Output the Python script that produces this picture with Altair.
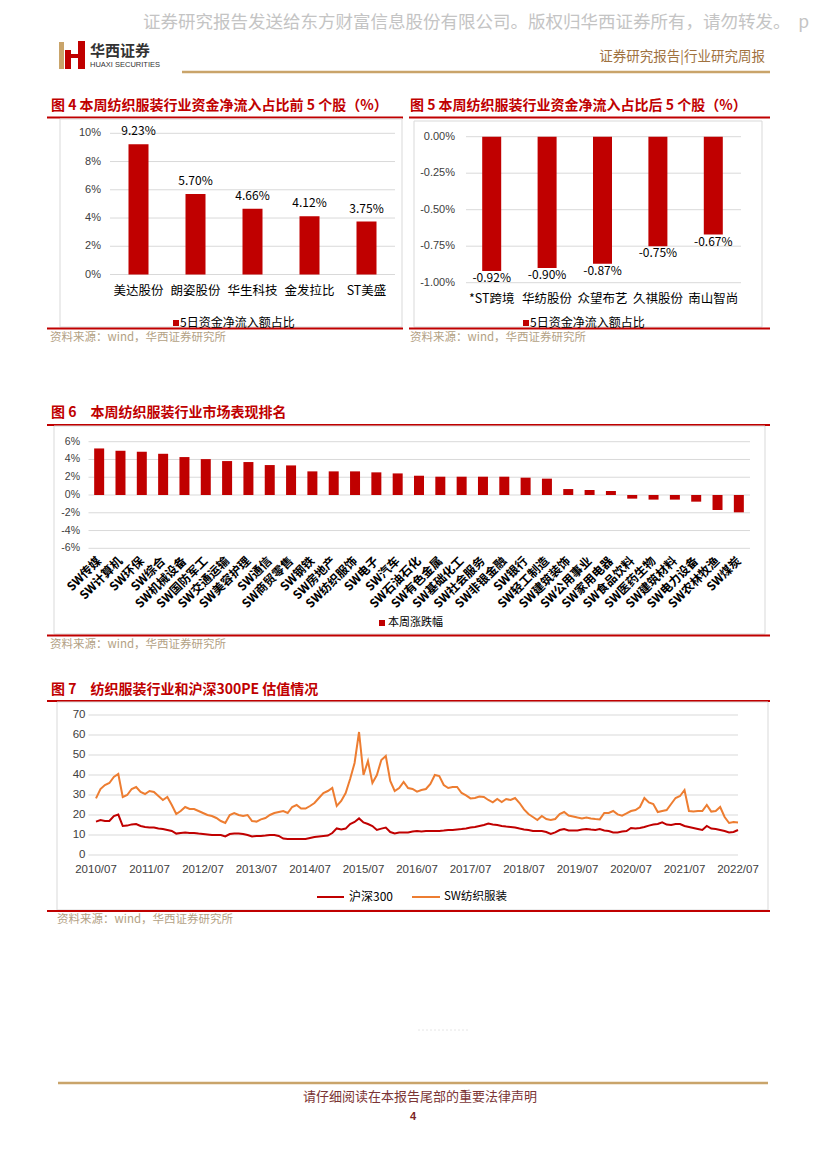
import altair as alt
import pandas as pd

# ---------------- data ----------------
cats4 = ["美达股份", "朗姿股份", "华生科技", "金发拉比", "ST美盛"]
vals4 = [9.23, 5.70, 4.66, 4.12, 3.75]
ticks4 = [0, 2, 4, 6, 8, 10]

cats5 = ["*ST跨境", "华纺股份", "众望布艺", "久祺股份", "南山智尚"]
vals5 = [-0.92, -0.90, -0.87, -0.75, -0.67]
ticks5 = [0.0, -0.25, -0.50, -0.75, -1.00]

cats6 = ["SW传媒", "SW计算机", "SW环保", "SW综合", "SW机械设备", "SW国防军工",
         "SW交通运输", "SW美容护理", "SW通信", "SW商贸零售", "SW钢铁", "SW房地产",
         "SW纺织服饰", "SW电子", "SW汽车", "SW石油石化", "SW有色金属", "SW基础化工",
         "SW社会服务", "SW非银金融", "SW银行", "SW轻工制造", "SW建筑装饰", "SW公用事业",
         "SW家用电器", "SW食品饮料", "SW医药生物", "SW建筑材料", "SW电力设备",
         "SW农林牧渔", "SW煤炭"]
vals6 = [5.24, 4.98, 4.87, 4.64, 4.27, 4.04, 3.82, 3.71, 3.37, 3.33, 2.66, 2.66,
         2.66, 2.55, 2.43, 2.17, 2.06, 2.06, 2.06, 2.06, 1.95, 1.84, 0.67, 0.56,
         0.45, -0.41, -0.52, -0.52, -0.75, -1.69, -1.95]
ticks6 = [6, 4, 2, 0, -2, -4, -6]

xlabels7 = ["2010/07", "2011/07", "2012/07", "2013/07", "2014/07", "2015/07", "2016/07",
            "2017/07", "2018/07", "2019/07", "2020/07", "2021/07", "2022/07"]
ticks7 = [0, 10, 20, 30, 40, 50, 60, 70]
# monthly readings, 2010/07 .. 2022/07
hs300 = [16.7, 17.5, 17, 17, 19.5, 20.2, 14.5, 14.7, 15.3, 15.5, 14.5, 14,
         13.8, 13.7, 13.2, 13, 12.5, 12, 10.7, 11, 11.3, 11, 11, 10.7,
         10.5, 10.3, 10, 10, 10, 9.3, 10.5, 10.8, 10.7, 10.5, 10, 9.3,
         9.5, 9.5, 9.7, 10, 10, 9.5, 8.2, 8, 8, 8, 8, 8,
         8.5, 9, 9.3, 9.5, 9.7, 11, 13.3, 12.8, 13.2, 15.5, 16.5, 18.3,
         16.3, 15.5, 14.5, 12.5, 13.2, 13.7, 11.5, 10.8, 11.2, 11.3, 11.3, 11.7,
         12, 11.7, 12, 12, 12, 12, 12.2, 12.5, 12.5, 12.8, 13, 13.3,
         13.7, 14, 14.5, 15, 15.7, 15.3, 15, 14.5, 14.2, 14, 13.7, 13.2,
         12.8, 12.5, 12, 12, 12, 11.5, 10.5, 11.3, 12.5, 13, 12.3, 12.3,
         12.3, 12.7, 13, 12.7, 12.5, 13, 12.3, 12, 11.3, 11.3, 11.7, 12,
         13.5, 13.3, 13.5, 14, 14.7, 15.2, 15.5, 16.3, 15.2, 15, 15.5, 15.5,
         14.5, 14, 13.5, 13, 12.5, 14.5, 13.2, 13, 12.5, 12, 11.3, 11.5, 12.5]
swfz = [28.3, 33, 35, 36, 39, 40.5, 29, 30, 33, 34, 31.5, 30.5,
        32, 31.5, 29.5, 27.5, 29, 25, 20.5, 22, 24, 23, 23, 22,
        21, 20, 19.5, 18.5, 17, 16, 20, 21, 20, 19.5, 20, 17,
        16.7, 17.8, 18.5, 20, 21, 21.5, 22, 21, 24, 25, 23.2, 23.2,
        24.5, 26, 28.5, 31, 32, 33.5, 24.5, 27, 31, 38, 46, 61.5,
        40, 47, 36, 40, 47.5, 49.5, 37, 32, 33.5, 36.5, 33.5, 33,
        31.7, 32.5, 33, 35.5, 40, 39.5, 35, 33.5, 34, 34, 31, 29.8,
        28.3, 28.5, 29.2, 29, 27.5, 26.3, 28, 26.5, 28, 27.5, 28.5, 26,
        22.8, 20.5, 19, 17.5, 19.5, 18, 17.5, 18, 20.5, 21.5, 19.7, 19.2,
        18.7, 18.3, 18.7, 18.3, 18, 17.8, 21, 21, 22, 20.3, 19.7, 20.8,
        22, 22.5, 24, 28.5, 26.3, 25.5, 21.5, 22, 22.5, 25.5, 28.5, 29.5,
        32.5, 22, 21.7, 22, 22, 25, 21.7, 22, 24, 19, 16, 16.5, 16.3]

# ---------------- style ----------------
M = 8
W, H = 811, 1154
CJK = "Noto Sans CJK SC"
SANS = "Liberation Sans"
RED = "#C00000"
ORANGE = "#ED7D31"
GRID = "#D9D9D9"
BOX = "#D9D9D9"
SRC = "#B3A184"
GOLD = "#C9A46A"
SP = "\u3000"


def px(v):
    return v - M


one = pd.DataFrame({"k": [0]})
layers = []


def text(s, x, y, size=12, color="#000000", align="left", font=CJK, weight="normal"):
    layers.append(
        alt.Chart(one).mark_text(text=s, align=align, baseline="middle", fontSize=size,
                                 font=font, color=color, fontWeight=weight)
        .encode(x=alt.value(px(x)), y=alt.value(px(y))))


def hrule(x1, x2, y, color, w=1.0, dash=None):
    kw = dict(color=color, strokeWidth=w)
    if dash:
        kw["strokeDash"] = dash
    layers.append(alt.Chart(one).mark_rule(**kw)
                  .encode(x=alt.value(px(x1)), x2=alt.value(px(x2)), y=alt.value(px(y))))


def rect(x1, x2, y1, y2, fill=None, stroke=None):
    if fill:
        m = alt.Chart(one).mark_rect(color=fill)
    else:
        m = alt.Chart(one).mark_rect(fillOpacity=0, stroke=stroke, strokeWidth=1)
    layers.append(m.encode(x=alt.value(px(x1)), x2=alt.value(px(x2)),
                           y=alt.value(px(y1)), y2=alt.value(px(y2))))


# ---------------- header ----------------
text("证券研究报告发送给东方财富信息股份有限公司。版权归华西证券所有，请勿转发。\u00a0\u00a0p",
     143, 23, size=17.5, color="#C4C4C4")
rect(59, 64, 42, 69, fill=GOLD)
rect(65, 71, 50, 69, fill=RED)
rect(78, 85, 41, 69, fill=RED)
rect(65, 85, 54, 58, fill=RED)
text("华西证券", 90, 51, size=15, color="#333333", weight="bold")
text("HUAXI SECURITIES", 90, 65, size=7.5, color="#333333", font=SANS)
text("证券研究报告|行业研究周报", 765, 57, size=13.5, color="#A0723F", align="right")
hrule(182, 770, 72, GOLD, 2.5)

# ---------------- figure 4 ----------------
text("图 4 本周纺织服装行业资金净流入占比前 5 个股（%）", 51, 106, size=14, color=RED, weight="bold")
hrule(47, 403, 117.5, RED, 2)
rect(60, 402, 119, 327, stroke=BOX)
hrule(47, 403, 328.5, RED, 2)
text("资料来源：wind，华西证券研究所", 50, 338, size=11.5, color=SRC)

df4 = pd.DataFrame({"cat": cats4, "val": vals4, "lbl": [f"{v:.2f}%" for v in vals4]})
t4 = pd.DataFrame({"v": ticks4, "lbl": [f"{v}%" for v in ticks4]})
ys4 = alt.Scale(domain=[0, 10], range=[px(274.5), px(133.3)])
xs4 = alt.Scale(domain=cats4, range=[px(110), px(395)], paddingInner=0, paddingOuter=0)
layers.append(alt.Chart(t4).mark_rule(color=GRID).encode(
    y=alt.Y("v:Q", scale=ys4, axis=None), x=alt.value(px(110)), x2=alt.value(px(395))))
layers.append(alt.Chart(t4).mark_text(align="right", baseline="middle", font=SANS, fontSize=11,
                                      color="#404040").encode(
    y=alt.Y("v:Q", scale=ys4, axis=None), x=alt.value(px(101)), text="lbl:N"))
layers.append(alt.Chart(df4).mark_bar(color=RED, width=20).encode(
    x=alt.X("cat:N", scale=xs4, axis=None, sort=cats4), y=alt.Y("val:Q", scale=ys4, axis=None)))
layers.append(alt.Chart(df4).mark_text(baseline="bottom", dy=-6, fontSize=12, font=CJK,
                                       color="#000000").encode(
    x=alt.X("cat:N", scale=xs4, axis=None, sort=cats4), y=alt.Y("val:Q", scale=ys4, axis=None),
    text="lbl:N"))
layers.append(alt.Chart(df4).mark_text(baseline="middle", fontSize=12.5, font=CJK,
                                       color="#000000").encode(
    x=alt.X("cat:N", scale=xs4, axis=None, sort=cats4), y=alt.value(px(291)), text="cat:N"))
rect(173, 179, 320, 326, fill=RED)
text("5日资金净流入额占比", 180, 323, size=12)

# ---------------- figure 5 ----------------
text("图 5 本周纺织服装行业资金净流入占比后 5 个股（%）", 410, 106, size=14, color=RED, weight="bold")
hrule(409, 770, 117.5, RED, 2)
rect(414, 762, 121, 327, stroke=BOX)
hrule(409, 770, 328.5, RED, 2)
text("资料来源：wind，华西证券研究所", 410, 338, size=11.5, color=SRC)

df5 = pd.DataFrame({"cat": cats5, "val": vals5, "lbl": [f"{v:.2f}%" for v in vals5]})
t5 = pd.DataFrame({"v": ticks5, "lbl": [f"{v:.2f}%" for v in ticks5]})
ys5 = alt.Scale(domain=[-1, 0], range=[px(282.7), px(136.7)])
xs5 = alt.Scale(domain=cats5, range=[px(464), px(741)], paddingInner=0, paddingOuter=0)
layers.append(alt.Chart(t5).mark_rule(color=GRID).encode(
    y=alt.Y("v:Q", scale=ys5, axis=None), x=alt.value(px(466)), x2=alt.value(px(741))))
layers.append(alt.Chart(t5).mark_text(align="right", baseline="middle", font=SANS, fontSize=11,
                                      color="#404040").encode(
    y=alt.Y("v:Q", scale=ys5, axis=None), x=alt.value(px(455)), text="lbl:N"))
layers.append(alt.Chart(df5).mark_bar(color=RED, width=19).encode(
    x=alt.X("cat:N", scale=xs5, axis=None, sort=cats5), y=alt.Y("val:Q", scale=ys5, axis=None)))
layers.append(alt.Chart(df5).mark_text(baseline="top", dy=2, fontSize=12, font=CJK,
                                       color="#000000").encode(
    x=alt.X("cat:N", scale=xs5, axis=None, sort=cats5), y=alt.Y("val:Q", scale=ys5, axis=None),
    text="lbl:N"))
layers.append(alt.Chart(df5).mark_text(baseline="middle", fontSize=12.5, font=CJK,
                                       color="#000000").encode(
    x=alt.X("cat:N", scale=xs5, axis=None, sort=cats5), y=alt.value(px(299)), text="cat:N"))
rect(523, 529, 320, 326, fill=RED)
text("5日资金净流入额占比", 530, 323, size=12)

# ---------------- figure 6 ----------------
text("图 6" + SP + "本周纺织服装行业市场表现排名", 51, 413, size=14, color=RED, weight="bold")
hrule(47, 770, 425, RED, 2)
rect(54, 765, 426, 634, stroke=BOX)
hrule(47, 770, 635.5, RED, 2)
text("资料来源：wind，华西证券研究所", 50, 645, size=11.5, color=SRC)

df6 = pd.DataFrame({"cat": cats6, "val": vals6})
t6 = pd.DataFrame({"v": ticks6, "lbl": [f"{v}%" for v in ticks6]})
ys6 = alt.Scale(domain=[-6, 6], range=[px(548.3), px(441.7)])
xs6 = alt.Scale(domain=cats6, range=[px(88.5), px(749.5)], paddingInner=0, paddingOuter=0)
layers.append(alt.Chart(t6).mark_rule(color=GRID).encode(
    y=alt.Y("v:Q", scale=ys6, axis=None), x=alt.value(px(88.5)), x2=alt.value(px(750))))
layers.append(alt.Chart(t6).mark_text(align="right", baseline="middle", font=SANS, fontSize=10.5,
                                      color="#404040").encode(
    y=alt.Y("v:Q", scale=ys6, axis=None), x=alt.value(px(80)), text="lbl:N"))
layers.append(alt.Chart(df6).mark_bar(color=RED, width=10).encode(
    x=alt.X("cat:N", scale=xs6, axis=None, sort=cats6), y=alt.Y("val:Q", scale=ys6, axis=None)))
layers.append(alt.Chart(df6).mark_text(angle=315, align="right", baseline="middle", fontSize=12,
                                       font=CJK, color="#000000", fontWeight="bold").encode(
    x=alt.X("cat:N", scale=xs6, axis=None, sort=cats6), y=alt.value(px(559)), text="cat:N"))
rect(379, 385, 620, 626, fill=RED)
text("本周涨跌幅", 388, 623, size=11)

# ---------------- figure 7 ----------------
text("图 7" + SP + "纺织服装行业和沪深300PE 估值情况", 51, 690, size=14, color=RED, weight="bold")
hrule(47, 770, 701, RED, 2)
rect(57, 768, 702, 910, stroke=BOX)
hrule(47, 770, 911, RED, 2)
text("资料来源：wind，华西证券研究所", 57, 920, size=11.5, color=SRC)

months7 = []
yy, mm = 2010, 7
for _ in range(len(hs300)):
    months7.append(f"{yy}/{mm:02d}")
    mm += 1
    if mm > 12:
        yy, mm = yy + 1, 1


def tpos(s):
    a, b = s.split("/")
    return int(a) + (int(b) - 1) / 12.0


df7 = pd.DataFrame({"t": [tpos(s) for s in months7], "hs": hs300, "sw": swfz})
t7 = pd.DataFrame({"v": ticks7, "lbl": [str(v) for v in ticks7]})
xl7 = pd.DataFrame({"t": [tpos(s) for s in xlabels7], "lbl": xlabels7})
xs7 = alt.Scale(domain=[2010.5, 2022.5], range=[px(96), px(738)])
ys7 = alt.Scale(domain=[0, 70], range=[px(855), px(715)])
layers.append(alt.Chart(t7).mark_rule(color=GRID).encode(
    y=alt.Y("v:Q", scale=ys7, axis=None), x=alt.value(px(88.5)), x2=alt.value(px(738))))
layers.append(alt.Chart(t7).mark_text(align="right", baseline="middle", font=SANS, fontSize=11.5,
                                      color="#404040").encode(
    y=alt.Y("v:Q", scale=ys7, axis=None), x=alt.value(px(85.5)), text="lbl:N"))
layers.append(alt.Chart(xl7).mark_text(align="center", baseline="middle", font=SANS, fontSize=11.5,
                                       color="#404040").encode(
    x=alt.X("t:Q", scale=xs7, axis=None), y=alt.value(px(870)), text="lbl:N"))
layers.append(alt.Chart(df7).mark_line(color=RED, strokeWidth=2).encode(
    x=alt.X("t:Q", scale=xs7, axis=None), y=alt.Y("hs:Q", scale=ys7, axis=None)))
layers.append(alt.Chart(df7).mark_line(color=ORANGE, strokeWidth=2).encode(
    x=alt.X("t:Q", scale=xs7, axis=None), y=alt.Y("sw:Q", scale=ys7, axis=None)))
hrule(317, 344, 897, RED, 2)
text("沪深300", 349, 897, size=12)
hrule(412, 440, 897, ORANGE, 2)
text("SW纺织服装", 444, 897, size=11.5)

# ---------------- footer ----------------
hrule(418, 470, 1030, "#E6E6E6", 1, [2, 2])
hrule(58, 768, 1083, GOLD, 2.5)
text("请仔细阅读在本报告尾部的重要法律声明", 420, 1097, size=13, color="#7B3434", align="center")
text("4", 413, 1117, size=11, color="#7B2424", align="center", font=SANS, weight="bold")

chart = (
    alt.layer(*layers)
    .resolve_scale(x="independent", y="independent")
    .properties(width=W, height=H, autosize=alt.AutoSizeParams(type="none"), padding=0,
                background="white")
    .configure_view(stroke=None)
)

chart.save("out.html", embed_options={"renderer": "svg", "actions": False})
